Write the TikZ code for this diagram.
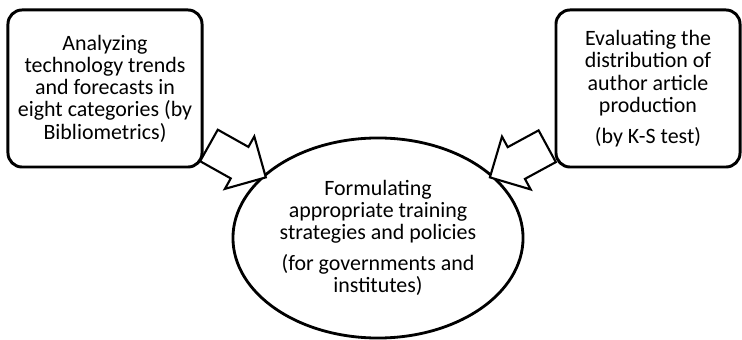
\documentclass[tikz,border=0pt]{standalone}
\usepackage{fontspec}
\setmainfont{Carlito}
\usetikzlibrary{shapes.geometric,shapes.arrows}

\begin{document}
\begin{tikzpicture}[x=0.025cm,y=-0.025cm]
    \newcommand{\gap}[0]{ 6pt }
    \tikzstyle{box}=[
      draw=black,
      line width=2.1pt,
      rounded corners=10pt,
      fill=white,
      inner sep=0pt,
      align=center,
      font=\fontsize{15.6pt}{15.8pt}\selectfont
    ]
    \tikzstyle{goal}=[
      ellipse,
      draw=black,
      line width=2pt,
      fill=white,
      inner sep=0pt,
      minimum width=7.25cm,
      minimum height=5cm,
      align=center,
      font=\fontsize{15.6pt}{15.8pt}\selectfont
    ]
    \tikzstyle{blockarrow}=[
      single arrow,
      draw=black,
      line width=1.5pt,
      fill=white,
      inner xsep=0pt,
      inner ysep=0.425cm,
      minimum height=1.63cm,
      single arrow head extend=0.3cm,
      single arrow tip angle=90
    ]

    \useasboundingbox (0,0) rectangle (742,340);

    \node[box, minimum width=4.85cm, minimum height=3.925cm] (trends) at (105,88.5)
      {Analyzing\\technology trends\\and forecasts in\\eight categories (by\\Bibliometrics)};
    \node[box, minimum width=4.6cm, minimum height=3.925cm] (kstest) at (648,88.5)
      {Evaluating the\\distribution of\\author article\\production\\[\gap](by K-S test)};
    \node[goal] (policies) at (378,238)
      {Formulating\\appropriate training\\strategies and policies\\[\gap](for governments and\\institutes)};

    \node[blockarrow, rotate=-29.3] (trends arrow) at (229.5,157) {};
    \node[blockarrow, rotate=208.5] (kstest arrow) at (526.5,157.5) {};
\end{tikzpicture}
\end{document}
